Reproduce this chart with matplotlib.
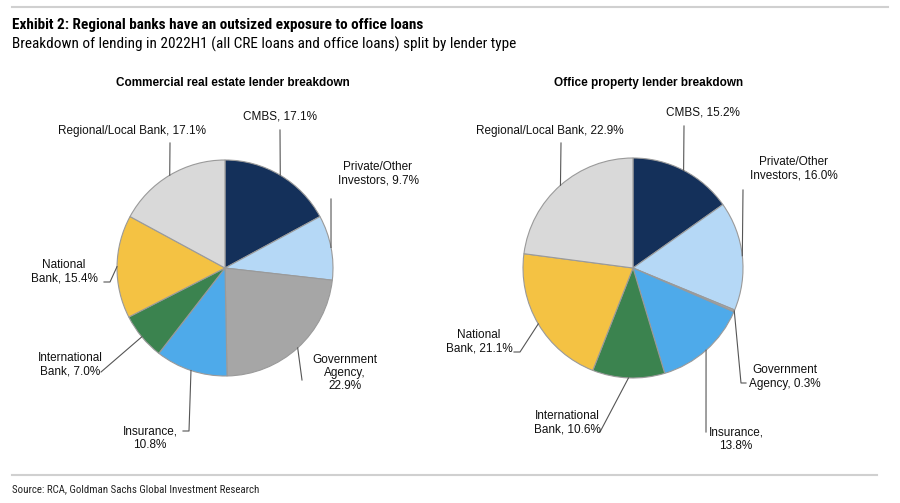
import numpy as np
from matplotlib import pyplot as plt

# lender types, clockwise from 12 o'clock
lenders = ["CMBS", "Private/Other Investors", "Government Agency", "Insurance",
           "International Bank", "National Bank", "Regional/Local Bank"]
cre_share = [17.1, 9.7, 22.9, 10.8, 7.0, 15.4, 17.1]
office_share = [15.2, 16.0, 0.3, 13.8, 10.6, 21.1, 22.9]

cre_labels = ["CMBS, 17.1%", "Private/Other\nInvestors, 9.7%", "Government\nAgency,\n22.9%",
              "Insurance,\n10.8%", "International\nBank, 7.0%", "National\nBank, 15.4%",
              "Regional/Local Bank, 17.1%"]
office_labels = ["CMBS, 15.2%", "Private/Other\nInvestors, 16.0%", "Government\nAgency, 0.3%",
                 "Insurance,\n13.8%", "International\nBank, 10.6%", "National\nBank, 21.1%",
                 "Regional/Local Bank, 22.9%"]

colors = ["#14305a", "#b5d8f6", "#a6a6a6", "#4eaaea", "#3b834f", "#f4c243", "#d9d9d9"]

W, H = 900, 503
fig = plt.figure(figsize=(9, 5.03), dpi=100)
ax = fig.add_axes([0, 0, 1, 1])

def Y(y):
    # image rows (top down) -> axis coords (bottom up)
    return H - y

# label layout: (text x, text y, ha, leader points after the wedge edge)
cre_layout = [
    (280, 116, "center", [(280, 130)]),
    (378, 174, "center", [(331, 199)]),
    (345, 373, "center", [(302, 380)]),
    (150, 438, "center", [(189, 431), (183, 431)]),
    (70, 365, "center", [(101, 372)]),
    (64, 272, "center", [(110, 282), (104, 282)]),
    (132, 131, "center", [(170, 143)]),
]
office_layout = [
    (703, 112, "center", [(684, 126)]),
    (794, 169, "center", [(743, 190)]),
    (785, 377, "center", [(741, 383), (746, 383)]),
    (736, 439, "center", [(706, 432)]),
    (567, 423, "center", [(600, 432)]),
    (479, 342, "center", [(520, 352), (514, 352)]),
    (550, 131, "center", [(561, 143)]),
]

def draw_pie(values, labels, layout, cx, cy, r, title, tx):
    wedges, _ = ax.pie(values, colors=colors, startangle=90, counterclock=False,
                       center=(cx, Y(cy)), radius=r,
                       wedgeprops=dict(edgecolor="#9a9a9a", linewidth=0.8))
    for w, lab, (lx, ly, ha, pts) in zip(wedges, labels, layout):
        mid = np.deg2rad((w.theta1 + w.theta2) / 2)
        xs = [cx + r * np.cos(mid)] + [p[0] for p in pts]
        ys = [Y(cy) + r * np.sin(mid)] + [Y(p[1]) for p in pts]
        ax.plot(xs, ys, color="#555555", linewidth=0.8)
        ax.text(lx, Y(ly), lab, ha=ha, va="center", fontsize=8.5,
                family="Liberation Sans", linespacing=1.15, color="#111111")
    ax.text(tx, Y(83), title, ha="center", va="center", fontsize=8.5,
            fontweight="bold", family="Liberation Sans")

draw_pie(cre_share, cre_labels, cre_layout, 225, 268, 108,
         "Commercial real estate lender breakdown", 233)
draw_pie(office_share, office_labels, office_layout, 633, 268, 110,
         "Office property lender breakdown", 649)

ax.set_xlim(0, W)
ax.set_ylim(0, H)
ax.set_aspect("equal")
ax.axis("off")

narrow = ["Roboto Condensed", "PT Sans Narrow", "DejaVu Sans"]
ax.plot([12, 888], [Y(7), Y(7)], color="#d0d0d0", linewidth=1.5)
ax.plot([12, 877], [Y(475), Y(475)], color="#d0d0d0", linewidth=1.5)
ax.text(12, Y(25), "Exhibit 2: Regional banks have an outsized exposure to office loans",
        ha="left", va="center", fontsize=11, fontweight="bold", family=narrow)
ax.text(12, Y(44), "Breakdown of lending in 2022H1 (all CRE loans and office loans) split by lender type",
        ha="left", va="center", fontsize=11, family=narrow)
ax.text(12, Y(489), "Source: RCA, Goldman Sachs Global Investment Research",
        ha="left", va="center", fontsize=7.8, family=narrow, color="#222222")

fig.savefig("out.png", dpi=100)
